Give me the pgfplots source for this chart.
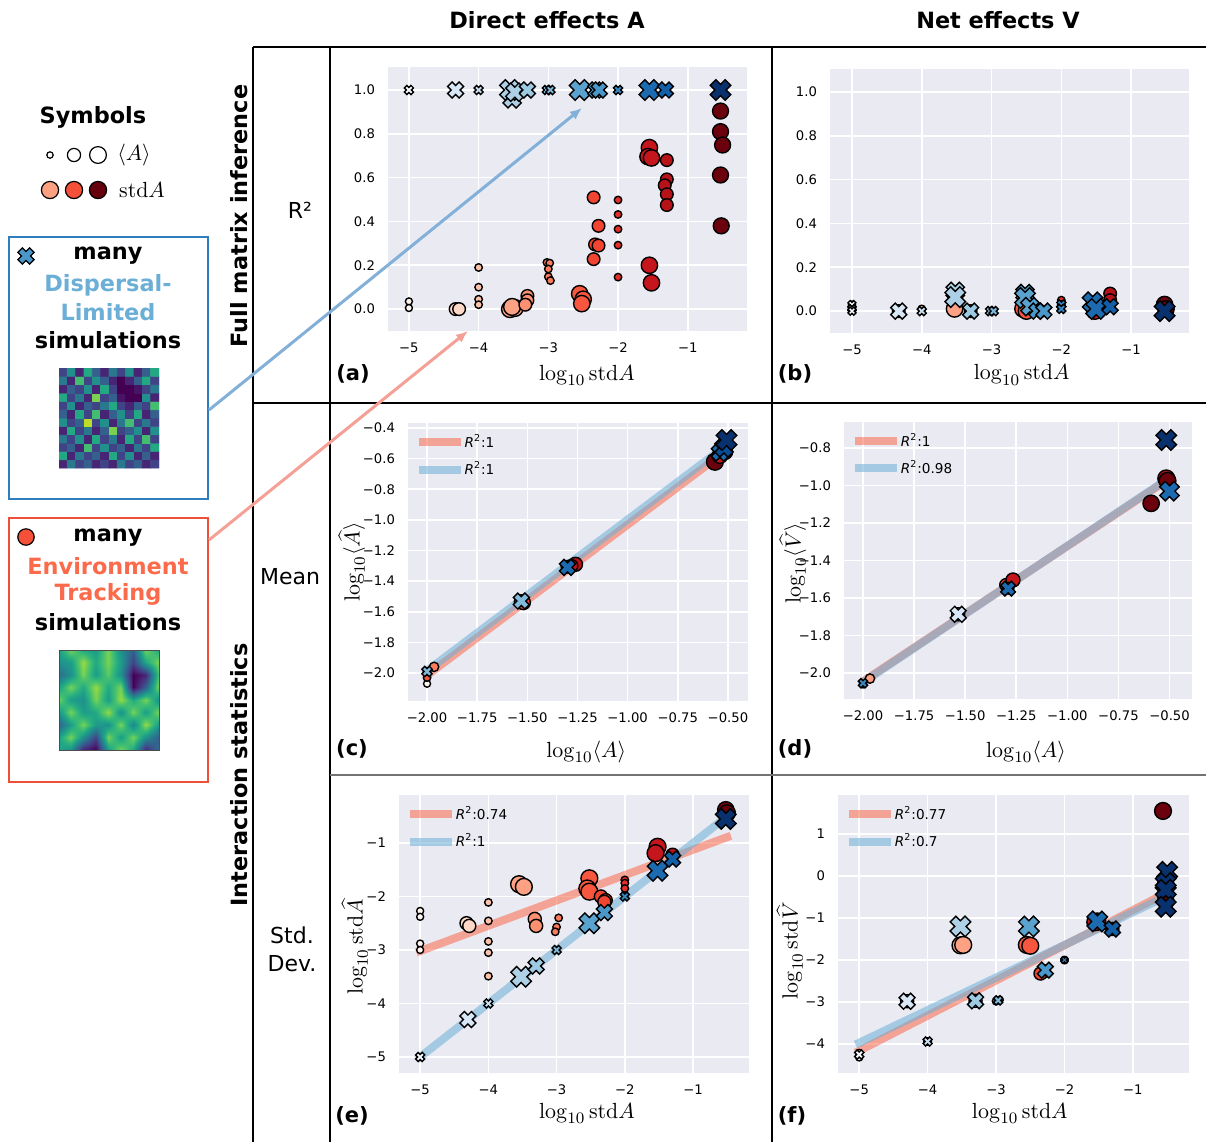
\documentclass[border=0pt]{standalone}
\usepackage[no-math]{fontspec}
\usepackage{pgfplots}
\usepackage{pgfplotstable}
\pgfplotsset{compat=1.18}
\usepgfplotslibrary{patchplots}
\usetikzlibrary{arrows.meta}
\setmainfont{DejaVu Sans}
\definecolor{bg}{HTML}{EAEAF2}
\definecolor{lred}{HTML}{FB6A4A}
\definecolor{lblue}{HTML}{6BAED6}
\definecolor{boxblue}{HTML}{2E7EBE}
\definecolor{boxred}{HTML}{EF4E38}
\definecolor{arrblue}{HTML}{82B0D8}
\definecolor{arrred}{HTML}{F4A096}
\definecolor{sym1}{HTML}{FCA082}
\definecolor{sym2}{HTML}{F4503A}
\definecolor{sym3}{HTML}{67000D}
\definecolor{xicon}{HTML}{4A98C9}

\pgfdeclareplotmark{fatx}{%
  \pgftransformrotate{45}%
  \pgfmathsetlengthmacro\ra{1.3*\pgfplotmarksize}%
  \pgfmathsetlengthmacro\rb{0.5*\pgfplotmarksize}%
  \pgfpathmoveto{\pgfqpoint{\ra}{-\rb}}%
  \pgfpathlineto{\pgfqpoint{\ra}{\rb}}%
  \pgfpathlineto{\pgfqpoint{\rb}{\rb}}%
  \pgfpathlineto{\pgfqpoint{\rb}{\ra}}%
  \pgfpathlineto{\pgfqpoint{-\rb}{\ra}}%
  \pgfpathlineto{\pgfqpoint{-\rb}{\rb}}%
  \pgfpathlineto{\pgfqpoint{-\ra}{\rb}}%
  \pgfpathlineto{\pgfqpoint{-\ra}{-\rb}}%
  \pgfpathlineto{\pgfqpoint{-\rb}{-\rb}}%
  \pgfpathlineto{\pgfqpoint{-\rb}{-\ra}}%
  \pgfpathlineto{\pgfqpoint{\rb}{-\ra}}%
  \pgfpathlineto{\pgfqpoint{\rb}{-\rb}}%
  \pgfpathclose
  \pgfusepathqfillstroke
}

\pgfplotsset{
 colormap={Reds}{rgb255=(255,245,240) rgb255=(254,224,210) rgb255=(252,187,161) rgb255=(252,146,114) rgb255=(251,106,74) rgb255=(239,59,44) rgb255=(203,24,29) rgb255=(165,15,21) rgb255=(103,0,13)},
 colormap={Blues}{rgb255=(247,251,255) rgb255=(222,235,247) rgb255=(198,219,239) rgb255=(158,202,225) rgb255=(107,174,214) rgb255=(66,146,198) rgb255=(33,113,181) rgb255=(8,81,156) rgb255=(8,48,107)},
 sb/.style={scale only axis, anchor=south west,
   axis background/.style={fill=bg},
   grid=major, major grid style={draw=white, line width=0.8pt},
   axis line style={draw=none}, tick style={draw=none}, major tick length=0pt,
   tick label style={font=\fontsize{6.6}{7}\selectfont},
   xticklabel style={yshift=-2.5pt}, yticklabel style={xshift=-3pt},
   label style={font=\fontsize{11.4}{13}\selectfont},
   point meta min=-5, point meta max=-0.5, clip=false,
   legend style={draw=none, fill=none, at={(0.03,0.975)}, anchor=north west,
     font=\fontsize{6.8}{8}\selectfont, row sep=1.5pt, inner sep=0pt},
   legend image code/.code={\draw[##1] (0pt,0pt) -- (17pt,0pt);},
   legend cell align=left},
 circ/.style={scatter, only marks, mark=*, forget plot, colormap name=Reds,
   point meta=\thisrow{c},
   visualization depends on={1.17*\thisrow{s} \as \msz},
   scatter/use mapped color={draw=black, fill=mapped color},
   scatter/@pre marker code/.append style={/tikz/mark size=\msz},
   mark options={line width=0.7pt}},
 crs/.style={scatter, only marks, mark=fatx, forget plot, colormap name=Blues,
   point meta=\thisrow{c},
   visualization depends on={1.12*\thisrow{s} \as \msz},
   scatter/use mapped color={draw=black, fill=mapped color},
   scatter/@pre marker code/.append style={/tikz/mark size=\msz},
   mark options={line width=0.7pt}},
 rline/.style={no marks, line width=4pt, color=lred, opacity=0.55, line cap=rect},
 bline/.style={no marks, line width=4pt, color=lblue, opacity=0.55, line cap=rect},
}

% ---------- panel (a) ----------
\pgfplotstableread{
x y c s
-5.0 0.035 -5 1.5
-5.0 0.005 -5 1.5
-4.33 0.0 -4.3 2.7
-4.28 0.0 -4.3 2.7
-4.0 0.19 -4 1.6
-4.0 0.10 -4 1.6
-4.0 0.045 -4 1.6
-4.0 0.02 -4 1.6
-3.55 0.0 -3.52 3.6
-3.48 0.005 -3.52 3.6
-3.52 0.01 -3.52 3.6
-3.3 0.06 -3.3 2.7
-3.3 0.04 -3.3 2.7
-3.33 0.02 -3.3 2.7
-3.02 0.213 -3 1.6
-2.98 0.21 -3 1.6
-3.0 0.183 -3 1.6
-3.0 0.148 -3 1.6
-2.97 0.13 -3 1.6
-2.55 0.07 -2.52 3.5
-2.5 0.045 -2.52 3.5
-2.52 0.025 -2.52 3.5
-2.35 0.51 -2.3 2.7
-2.28 0.38 -2.3 2.7
-2.33 0.295 -2.3 2.7
-2.28 0.29 -2.3 2.7
-2.35 0.228 -2.3 2.7
-2.0 0.498 -2 1.6
-2.0 0.432 -2 1.6
-2.0 0.365 -2 1.6
-2.0 0.292 -2 1.6
-2.0 0.146 -2 1.6
-1.55 0.737 -1.52 3.5
-1.57 0.696 -1.52 3.5
-1.52 0.69 -1.52 3.5
-1.55 0.2 -1.52 3.5
-1.52 0.12 -1.52 3.5
-1.3 0.68 -1.3 2.7
-1.3 0.592 -1.3 2.7
-1.33 0.565 -1.3 2.7
-1.3 0.524 -1.3 2.7
-1.3 0.475 -1.3 2.7
-0.53 0.904 -0.52 3.4
-0.53 0.81 -0.52 3.4
-0.5 0.749 -0.52 3.4
-0.53 0.612 -0.52 3.4
-0.52 0.38 -0.52 3.4
}\aC
\pgfplotstableread{
x y c s
-5.0 1.0 -5 1.6
-4.33 1.0 -4.3 2.8
-4.0 1.0 -4 1.6
-3.52 0.96 -3.52 3.2
-3.55 1.0 -3.52 3.6
-3.48 0.99 -3.52 3.2
-3.3 1.0 -3.3 2.8
-3.02 1.0 -3 1.6
-2.97 1.0 -3 1.6
-2.55 1.0 -2.52 3.6
-2.32 1.0 -2.3 2.8
-2.27 1.0 -2.3 2.8
-2.0 1.0 -2 1.6
-1.55 1.0 -1.52 3.6
-1.32 1.0 -1.3 2.8
-0.53 1.0 -0.52 3.6
}\aX
% ---------- panel (b) ----------
\pgfplotstableread{
x y c s
-5.0 0.03 -5 1.5
-5.0 0.01 -5 1.5
-4.33 0.0 -4.3 2.7
-4.0 0.01 -4 1.6
-3.53 0.01 -3.52 3.5
-3.3 0.0 -3.3 2.7
-3.0 0.0 -3 1.6
-2.55 0.01 -2.52 3.5
-2.5 0.0 -2.52 3.5
-2.3 0.0 -2.3 2.7
-2.0 0.05 -2 1.6
-2.0 0.03 -2 1.6
-1.52 0.0 -1.52 3.5
-1.5 0.02 -1.52 3.5
-1.3 0.08 -1.3 2.7
-1.3 0.05 -1.3 2.7
-0.52 0.03 -0.52 3.5
-0.5 0.01 -0.52 3.5
}\bC
\pgfplotstableread{
x y c s
-5.0 0.03 -5 1.4
-5.0 0.01 -5 1.4
-5.0 0.0 -5 1.4
-4.33 0.0 -4.3 2.8
-4.0 0.0 -4 1.6
-3.52 0.09 -3.52 3.2
-3.52 0.064 -3.52 3.6
-3.3 0.0 -3.3 2.8
-3.02 0.0 -3 1.6
-2.97 0.0 -3 1.6
-2.52 0.08 -2.52 3.2
-2.52 0.06 -2.52 3.6
-2.45 0.02 -2.52 3.2
-2.35 0.0 -2.3 2.8
-2.25 0.0 -2.3 2.8
-2.0 0.03 -2 1.6
-2.0 0.01 -2 1.6
-1.55 0.04 -1.52 3.6
-1.5 0.01 -1.52 3.6
-1.3 0.02 -1.3 2.8
-0.52 0.0 -0.52 3.6
}\bX
% ---------- panel (c) ----------
\pgfplotstableread{
x y c s
-2.0 -2.07 -5 1.5
-2.0 -2.03 -2.5 1.6
-2.0 -1.99 -4 1.6
-1.965 -1.96 -3 2.0
-1.53 -1.535 -3 3.0
-1.52 -1.54 -2.3 3.0
-1.30 -1.306 -2.3 2.7
-1.26 -1.29 -1.3 3.0
-1.28 -1.30 -1.5 2.7
-0.565 -0.62 -0.52 3.6
-0.54 -0.58 -1.52 3.3
-0.515 -0.555 -0.52 3.3
}\cC
\pgfplotstableread{
x y c s
-2.0 -1.99 -3 1.8
-1.53 -1.53 -3 2.8
-1.30 -1.31 -1.5 2.8
-0.54 -0.56 -1.5 3.0
-0.52 -0.53 -1 3.2
-0.507 -0.478 -0.52 3.6
}\cX
% ---------- panel (d) ----------
\pgfplotstableread{
x y c s
-2.0 -2.06 -0.52 1.6
-1.966 -2.03 -3.5 2.0
-1.534 -1.687 -4.3 2.8
-1.30 -1.53 -2.3 2.7
-1.266 -1.504 -1.5 3.0
-1.29 -1.548 -2 2.5
-0.516 -0.962 -1.3 3.6
-0.51 -0.975 -0.52 3.6
-0.59 -1.095 -0.52 3.5
}\dC
\pgfplotstableread{
x y c s
-2.0 -2.055 -2 1.6
-1.534 -1.687 -4.3 2.8
-1.29 -1.55 -1.5 2.6
-0.516 -0.757 -0.52 3.6
-0.50 -1.03 -1.5 3.4
}\dX
% ---------- panel (e) ----------
\pgfplotstableread{
x y c s
-5 -2.27 -5 1.5
-5 -2.38 -5 1.5
-5 -2.88 -5 1.5
-5 -3.0 -5 1.5
-4.32 -2.5 -4.3 2.8
-4.28 -2.55 -4.3 2.8
-4 -2.11 -4 1.6
-4 -2.456 -4 1.6
-4 -2.84 -4 1.6
-4 -3.05 -4 1.6
-4 -3.49 -4 1.6
-3.55 -1.77 -3.52 3.6
-3.48 -1.82 -3.52 3.6
-3.32 -2.42 -3.3 2.8
-3.3 -2.55 -3.3 2.8
-2.97 -2.40 -3 1.6
-3.0 -2.57 -3 1.6
-3.02 -2.66 -3 1.6
-2.52 -1.66 -2.52 3.6
-2.55 -1.85 -2.52 3.6
-2.52 -1.91 -2.52 3.6
-2.35 -2.0 -2.3 2.8
-2.28 -2.07 -2.3 2.8
-2.3 -2.10 -2.3 2.8
-2 -1.69 -2 1.6
-2 -1.75 -2 1.6
-2 -1.85 -2 1.6
-1.52 -1.07 -1.52 3.6
-1.55 -1.19 -1.52 3.6
-1.3 -1.22 -1.3 2.8
-0.52 -0.38 -0.52 3.5
-0.5 -0.44 -0.52 3.5
}\eC
\pgfplotstableread{
x y c s
-5 -5 -5 1.6
-4.3 -4.3 -4.3 2.8
-4 -4 -4 1.6
-3.52 -3.5 -3.52 3.6
-3.3 -3.3 -3.3 2.8
-3 -3 -3 1.6
-2.52 -2.5 -2.52 3.6
-2.3 -2.3 -2.3 2.8
-2 -2 -2 1.6
-1.52 -1.52 -1.52 3.6
-1.3 -1.3 -1.3 2.8
-0.52 -0.55 -0.52 3.6
}\eX
% ---------- panel (f) ----------
\pgfplotstableread{
x y c s
-5 -4.21 -5 1.5
-5 -4.32 -5 1.5
-4.3 -2.98 -4.3 2.8
-4 -3.94 -4 1.6
-3.52 -1.65 -3.52 3.6
-3.48 -1.64 -3.52 3.6
-3.3 -2.97 -3.3 2.8
-3.0 -2.98 -3 1.6
-2.95 -2.95 -3 1.6
-2.55 -1.64 -2.52 3.6
-2.5 -1.66 -2.52 3.6
-2.3 -2.27 -2.3 2.8
-2.35 -2.32 -2.3 2.8
-2 -2.0 -2 1.6
-1.52 -1.08 -1.52 3.6
-1.55 -1.1 -1.52 3.6
-1.3 -1.26 -1.3 2.8
-0.56 1.55 -0.52 3.6
-0.52 -0.2 -0.52 3.5
-0.52 -0.45 -0.52 3.5
-0.52 -0.6 -0.52 3.5
}\fC
\pgfplotstableread{
x y c s
-5 -4.25 -5 1.6
-4.3 -2.98 -4.3 2.8
-4 -3.94 -4 1.6
-3.52 -1.2 -3.52 3.6
-3.3 -2.97 -3.3 2.8
-2.97 -2.96 -3 1.6
-2.52 -1.2 -2.52 3.6
-2.28 -2.24 -2.3 2.8
-2 -2.0 -2 1.2
-1.52 -1.08 -1.52 3.6
-1.3 -1.26 -1.3 2.8
-0.5 0.10 -0.52 3.6
-0.52 -0.17 -0.52 3.6
-0.52 -0.33 -0.52 3.6
-0.52 -0.73 -0.52 3.6
}\fX

\begin{document}
\begin{tikzpicture}[x=0.5pt,y=-0.5pt]
\useasboundingbox (0,0) rectangle (1206,1142);

% ---------- frame lines ----------
\draw[line width=1.1pt] (253,47) -- (1206,47);
\draw[line width=1.1pt] (253,47) -- (253,1142);
\draw[line width=0.6pt] (330,47) -- (330,1142);
\draw[line width=0.9pt] (772,47) -- (772,1142);
\draw[line width=1.1pt] (253,403) -- (1206,403);
\draw[line width=1pt, color=black!55] (330,775) -- (1206,775);

% ---------- headings ----------
\node[font=\fontsize{11.2}{13}\selectfont\bfseries] at (547,20) {Direct effects A};
\node[font=\fontsize{11.2}{13}\selectfont\bfseries] at (998,20) {Net effects V};
\node[font=\fontsize{11.2}{13}\selectfont\bfseries, rotate=90] at (239,216) {Full matrix inference};
\node[font=\fontsize{11.2}{13}\selectfont\bfseries, rotate=90] at (239,775) {Interaction statistics};
\node[font=\fontsize{11}{13}\selectfont] at (300,210) {R²};
\node[font=\fontsize{11}{13}\selectfont] at (290,577) {Mean};
\node[font=\fontsize{11}{14}\selectfont, align=center] at (292,949) {Std.\\Dev.};

% ---------- (a) ----------
\begin{axis}[sb, at={(194pt,-165.5pt)}, width=179.5pt, height=132pt,
  xmin=-5.3, xmax=-0.15, ymin=-0.1, ymax=1.105,
  xtick={-5,-4,-3,-2,-1}, xticklabels={−5,−4,−3,−2,−1},
  ytick={0,0.2,0.4,0.6,0.8,1.0}, yticklabels={0.0,0.2,0.4,0.6,0.8,1.0},
  xlabel={$\log_{10}\mathrm{std}A$},
  xlabel style={at={(axis description cs:0.554,-0.167)}, anchor=center}]
\addplot[circ] table[x=x,y=y] {\aC};
\addplot[crs] table[x=x,y=y] {\aX};
\end{axis}

% ---------- (b) ----------
\begin{axis}[sb, at={(415pt,-166.5pt)}, width=179.5pt, height=132pt,
  xmin=-5.315, xmax=-0.17, ymin=-0.1, ymax=1.105,
  xtick={-5,-4,-3,-2,-1}, xticklabels={−5,−4,−3,−2,−1},
  ytick={0,0.2,0.4,0.6,0.8,1.0}, yticklabels={0.0,0.2,0.4,0.6,0.8,1.0},
  xlabel={$\log_{10}\mathrm{std}A$},
  xlabel style={at={(axis description cs:0.534,-0.159)}, anchor=center}]
\addplot[circ] table[x=x,y=y] {\bC};
\addplot[crs] table[x=x,y=y] {\bX};
\end{axis}

% ---------- (c) ----------
\begin{axis}[sb, at={(204pt,-350.5pt)}, width=170pt, height=139pt,
  xmin=-2.095, xmax=-0.40, ymin=-2.183, ymax=-0.367,
  xtick={-2,-1.75,-1.5,-1.25,-1,-0.75,-0.5},
  xticklabels={−2.00,−1.75,−1.50,−1.25,−1.00,−0.75,−0.50},
  ytick={-2,-1.8,-1.6,-1.4,-1.2,-1,-0.8,-0.6,-0.4},
  yticklabels={−2.0,−1.8,−1.6,−1.4,−1.2,−1.0,−0.8,−0.6,−0.4},
  xlabel={$\log_{10}\langle A\rangle$},
  xlabel style={at={(axis description cs:0.524,-0.183)}, anchor=center},
  ylabel={$\log_{10}\langle\widehat{A}\rangle$},
  ylabel style={at={(axis description cs:-0.165,0.5)}, anchor=center}]
\addplot[circ] table[x=x,y=y] {\cC};
\addplot[crs] table[x=x,y=y] {\cX};
\addplot[rline] coordinates {(-2.0,-2.015) (-0.515,-0.554)};
\addlegendentry{\textit{R}\textsuperscript{2}:1}
\addplot[bline] coordinates {(-2.0,-1.985) (-0.515,-0.52)};
\addlegendentry{\textit{R}\textsuperscript{2}:1}
\end{axis}

% ---------- (d) ----------
\begin{axis}[sb, at={(422pt,-349.5pt)}, width=174pt, height=138.5pt,
  xmin=-2.093, xmax=-0.39, ymin=-2.139, ymax=-0.661,
  xtick={-2,-1.75,-1.5,-1.25,-1,-0.75,-0.5},
  xticklabels={−2.00,−1.75,−1.50,−1.25,−1.00,−0.75,−0.50},
  ytick={-2,-1.8,-1.6,-1.4,-1.2,-1,-0.8},
  yticklabels={−2.0,−1.8,−1.6,−1.4,−1.2,−1.0,−0.8},
  xlabel={$\log_{10}\langle A\rangle$},
  xlabel style={at={(axis description cs:0.523,-0.19)}, anchor=center},
  ylabel={$\log_{10}\langle\widehat{V}\rangle$},
  ylabel style={at={(axis description cs:-0.147,0.49)}, anchor=center}]
\addplot[circ] table[x=x,y=y] {\dC};
\addplot[crs] table[x=x,y=y] {\dX};
\addplot[rline] coordinates {(-2.0,-2.045) (-0.51,-0.97)};
\addlegendentry{\textit{R}\textsuperscript{2}:1}
\addplot[bline] coordinates {(-2.0,-2.05) (-0.51,-0.965)};
\addlegendentry{\textit{R}\textsuperscript{2}:0.98}
\end{axis}

% ---------- (e) ----------
\begin{axis}[sb, at={(199.5pt,-536.5pt)}, width=175pt, height=139pt,
  xmin=-5.31, xmax=-0.18, ymin=-5.3, ymax=-0.103,
  xtick={-5,-4,-3,-2,-1}, xticklabels={−5,−4,−3,−2,−1},
  ytick={-5,-4,-3,-2,-1}, yticklabels={−5,−4,−3,−2,−1},
  xlabel={$\log_{10}\mathrm{std}A$},
  xlabel style={at={(axis description cs:0.537,-0.144)}, anchor=center},
  ylabel={$\log_{10}\mathrm{std}\widehat{A}$},
  ylabel style={at={(axis description cs:-0.126,0.453)}, anchor=center}]
\addplot[circ] table[x=x,y=y] {\eC};
\addplot[crs] table[x=x,y=y] {\eX};
\addplot[rline] coordinates {(-5,-3.02) (-0.5,-0.89)};
\addlegendentry{\textit{R}\textsuperscript{2}:0.74}
\addplot[bline] coordinates {(-5,-5) (-0.5,-0.5)};
\addlegendentry{\textit{R}\textsuperscript{2}:1}
\end{axis}

% ---------- (f) ----------
\begin{axis}[sb, at={(419pt,-536.5pt)}, width=175.5pt, height=139pt,
  xmin=-5.31, xmax=-0.18, ymin=-4.69, ymax=1.93,
  xtick={-5,-4,-3,-2,-1}, xticklabels={−5,−4,−3,−2,−1},
  ytick={-4,-3,-2,-1,0,1}, yticklabels={−4,−3,−2,−1,0,1},
  xlabel={$\log_{10}\mathrm{std}A$},
  xlabel style={at={(axis description cs:0.518,-0.144)}, anchor=center},
  ylabel={$\log_{10}\mathrm{std}\widehat{V}$},
  ylabel style={at={(axis description cs:-0.137,0.44)}, anchor=center}]
\addplot[circ] table[x=x,y=y] {\fC};
\addplot[crs] table[x=x,y=y] {\fX};
\addplot[rline] coordinates {(-5,-4.16) (-0.52,-0.41)};
\addlegendentry{\textit{R}\textsuperscript{2}:0.77}
\addplot[bline] coordinates {(-5,-3.97) (-0.52,-0.49)};
\addlegendentry{\textit{R}\textsuperscript{2}:0.7}
\end{axis}

% ---------- panel letters ----------
\foreach \t/\px/\py in {(a)/353/374,(b)/795/374,(c)/352/749,(d)/795/749,(e)/352/1116,(f)/792/1116}
  \node[font=\fontsize{10.5}{12}\selectfont\bfseries] at (\px,\py) {\t};

% ---------- left column ----------
\draw[boxblue, line width=0.8pt] (9,237) rectangle (208,499);
\draw[boxred, line width=0.8pt] (9,518) rectangle (208,782);
\node[font=\fontsize{11.2}{13}\selectfont\bfseries] at (93,117) {Symbols};
\node[font=\fontsize{11.4}{13}\selectfont] at (134,155) {$\langle A\rangle$};
\node[font=\fontsize{11.4}{13}\selectfont] at (142,190) {$\mathrm{std}A$};
\begin{scope}[every node/.style={font=\fontsize{11.2}{13}\selectfont\bfseries}]
\node at (108,256) {many};
\node[text=lblue] at (108,285) {Dispersal-};
\node[text=lblue] at (108,312) {Limited};
\node at (108,340) {simulations};
\node at (108,538) {many};
\node[text=lred] at (108,566) {Environment};
\node[text=lred] at (108,594) {Tracking};
\node at (108,622) {simulations};
\end{scope}

\begin{axis}[at={(0pt,-571pt)}, anchor=south west, scale only axis, hide axis,
  width=125pt, height=571pt, xmin=0, xmax=250, ymin=0, ymax=1142,
  y dir=reverse, clip=false]
\addplot[only marks, mark=*, mark size=1.6, mark options={fill=white, draw=black, line width=0.6pt}] coordinates {(50,155)};
\addplot[only marks, mark=*, mark size=3.3, mark options={fill=white, draw=black, line width=0.6pt}] coordinates {(74,155)};
\addplot[only marks, mark=*, mark size=4.2, mark options={fill=white, draw=black, line width=0.6pt}] coordinates {(98,155)};
\addplot[only marks, mark=*, mark size=4.3, mark options={fill=sym1, draw=black, line width=0.6pt}] coordinates {(50,190)};
\addplot[only marks, mark=*, mark size=4.3, mark options={fill=sym2, draw=black, line width=0.6pt}] coordinates {(74,190)};
\addplot[only marks, mark=*, mark size=4.3, mark options={fill=sym3, draw=black, line width=0.6pt}] coordinates {(98,190)};
\addplot[only marks, mark=fatx, mark size=3.2, mark options={fill=xicon, draw=black, line width=0.6pt}] coordinates {(26,256)};
\addplot[only marks, mark=*, mark size=4.1, mark options={fill=sym2, draw=black, line width=0.6pt}] coordinates {(26,537)};
\end{axis}

% dispersal-limited snapshot
\begin{axis}[at={(29.5pt,-234pt)}, anchor=south west, scale only axis, hide axis,
  width=50pt, height=50pt, xmin=-0.5, xmax=11.5, ymin=-0.5, ymax=11.5,
  colormap name=viridis, point meta min=0, point meta max=1]
\addplot[matrix plot*, mesh/cols=12, point meta=explicit] coordinates {
(0,0)[0.1] (1,0)[0.4] (2,0)[0.2] (3,0)[0.3] (4,0)[0.1] (5,0)[0.2] (6,0)[0.1] (7,0)[0.4] (8,0)[0.2] (9,0)[0.3] (10,0)[0.1] (11,0)[0.2]
(0,1)[0.6] (1,1)[0.1] (2,1)[0.4] (3,1)[0.2] (4,1)[0.3] (5,1)[0.1] (6,1)[0.6] (7,1)[0.2] (8,1)[0.5] (9,1)[0.1] (10,1)[0.3] (11,1)[0.1]
(0,2)[0.2] (1,2)[0.3] (2,2)[0.1] (3,2)[0.7] (4,2)[0.2] (5,2)[0.5] (6,2)[0.2] (7,2)[0.3] (8,2)[0.1] (9,2)[0.4] (10,2)[0.2] (11,2)[0.6]
(0,3)[0.4] (1,3)[0.2] (2,3)[0.5] (3,3)[0.1] (4,3)[0.6] (5,3)[0.2] (6,3)[0.4] (7,3)[0.1] (8,3)[0.6] (9,3)[0.2] (10,3)[0.7] (11,3)[0.2]
(0,4)[0.1] (1,4)[0.6] (2,4)[0.2] (3,4)[0.4] (4,4)[0.1] (5,4)[0.3] (6,4)[0.8] (7,4)[0.2] (8,4)[0.3] (9,4)[0.5] (10,4)[0.1] (11,4)[0.5]
(0,5)[0.5] (1,5)[0.2] (2,5)[0.3] (3,5)[0.9] (4,5)[0.2] (5,5)[0.5] (6,5)[0.1] (7,5)[0.4] (8,5)[0.7] (9,5)[0.2] (10,5)[0.4] (11,5)[0.2]
(0,6)[0.3] (1,6)[0.1] (2,6)[0.6] (3,6)[0.2] (4,6)[0.7] (5,6)[0.1] (6,6)[0.3] (7,6)[0.5] (8,6)[0.2] (9,6)[0.6] (10,6)[0.1] (11,6)[0.3]
(0,7)[0.2] (1,7)[0.5] (2,7)[0.1] (3,7)[0.3] (4,7)[0.2] (5,7)[0.4] (6,7)[0.6] (7,7)[0.2] (8,7)[0.1] (9,7)[0.3] (10,7)[0.2] (11,7)[0.7]
(0,8)[0.6] (1,8)[0.2] (2,8)[0.4] (3,8)[0.1] (4,8)[0.8] (5,8)[0.2] (6,8)[0.3] (7,8)[0.05] (8,8)[0.0] (9,8)[0.0] (10,8)[0.5] (11,8)[0.1]
(0,9)[0.1] (1,9)[0.3] (2,9)[0.2] (3,9)[0.5] (4,9)[0.1] (5,9)[0.6] (6,9)[0.2] (7,9)[0.0] (8,9)[0.0] (9,9)[0.05] (10,9)[0.2] (11,9)[0.4]
(0,10)[0.4] (1,10)[0.1] (2,10)[0.7] (3,10)[0.2] (4,10)[0.5] (5,10)[0.3] (6,10)[0.1] (7,10)[0.0] (8,10)[0.1] (9,10)[0.3] (10,10)[0.6] (11,10)[0.2]
(0,11)[0.2] (1,11)[0.5] (2,11)[0.1] (3,11)[0.6] (4,11)[0.3] (5,11)[0.1] (6,11)[0.4] (7,11)[0.2] (8,11)[0.5] (9,11)[0.1] (10,11)[0.3] (11,11)[0.6]
};
\end{axis}

% environment-tracking snapshot
\begin{axis}[at={(29.5pt,-375pt)}, anchor=south west, scale only axis, hide axis,
  width=50pt, height=50pt, xmin=0, xmax=8, ymin=0, ymax=8,
  view={0}{90}, colormap name=viridis, point meta min=0, point meta max=1]
\addplot3[surf, shader=interp, patch type=bilinear, mesh/cols=9] coordinates {
(0,0,0.6) (1,0,0.5) (2,0,0.1) (3,0,0.0) (4,0,0.55) (5,0,0.8) (6,0,0.6) (7,0,0.1) (8,0,0.35)
(0,1,0.55) (1,1,0.8) (2,1,0.5) (3,1,0.2) (4,1,0.8) (5,1,0.55) (6,1,0.8) (7,1,0.5) (8,1,0.3)
(0,2,0.3) (1,2,0.55) (2,2,0.8) (3,2,0.55) (4,2,0.5) (5,2,0.8) (6,2,0.45) (7,2,0.85) (8,2,0.55)
(0,3,0.5) (1,3,0.8) (2,3,0.55) (3,3,0.6) (4,3,0.85) (5,3,0.5) (6,3,0.8) (7,3,0.55) (8,3,0.8)
(0,4,0.8) (1,4,0.55) (2,4,0.5) (3,4,0.8) (4,4,0.55) (5,4,0.85) (6,4,0.6) (7,4,0.8) (8,4,0.5)
(0,5,0.55) (1,5,0.8) (2,5,0.6) (3,5,0.85) (4,5,0.6) (5,5,0.8) (6,5,0.0) (7,5,0.3) (8,5,0.8)
(0,6,0.35) (1,6,0.5) (2,6,0.8) (3,6,0.55) (4,6,0.75) (5,6,0.5) (6,6,0.0) (7,6,0.1) (8,6,0.7)
(0,7,0.5) (1,7,0.55) (2,7,0.85) (3,7,0.6) (4,7,0.8) (5,7,0.55) (6,7,0.2) (7,7,0.6) (8,7,0.8)
(0,8,0.55) (1,8,0.8) (2,8,0.6) (3,8,0.55) (4,8,0.8) (5,8,0.5) (6,8,0.3) (7,8,0.8) (8,8,0.6)
};
\end{axis}
\draw[black!70, line width=0.4pt] (59,650) rectangle (159,750);

% ---------- arrows ----------
\draw[arrblue, line width=1.5pt, -{Latex[length=6pt,width=5pt]}] (209,410) -- (582,108);
\draw[arrred, line width=1.5pt, -{Latex[length=6pt,width=5pt]}] (209,540) -- (468,331);
\end{tikzpicture}
\end{document}
